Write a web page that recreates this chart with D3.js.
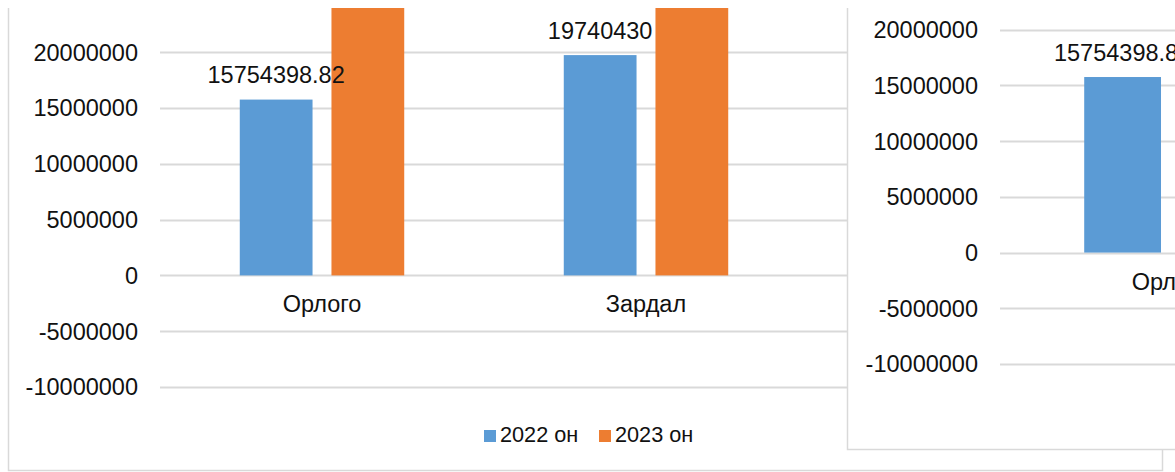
<!DOCTYPE html>
<html>
<head>
<meta charset="utf-8">
<script src="https://cdn.jsdelivr.net/npm/d3@7"></script>
<style>
  body { margin: 0; background: #fff; }
  svg { display: block; font-family: "Liberation Sans", Arial, sans-serif; }
</style>
</head>
<body>
<svg width="1175" height="472"></svg>
<script>
// data
const categories = ["Орлого", "Зардал"];
const series = ["2022 он", "2023 он"];
const values2022 = [15754398.82, 19740430];
const values2023 = [27000000, 30000000]; // tops run out of the picture
const labels2022 = ["15754398.82", "19740430"];
const yTicks = [-10000000, -5000000, 0, 5000000, 10000000, 15000000, 20000000];

const colors = ["#5B9BD5", "#ED7D31"];
const grid = "#D9D9D9";

const svg = d3.select("svg");

function drawChart(opts) {
  const g = svg.append("g");

  // frame
  g.append("rect")
    .attr("x", opts.frame[0] + 0.5).attr("y", opts.frame[1] + 0.5)
    .attr("width", opts.frame[2]).attr("height", opts.frame[3])
    .attr("fill", "#fff").attr("stroke", grid).attr("stroke-width", 1.5);

  const x = d3.scaleBand()
    .domain(opts.xDomain)
    .range([opts.plotLeft, opts.plotRight]);

  const x1 = d3.scaleBand()
    .domain(series)
    .range([0, x.bandwidth()])
    .paddingInner(0.2065)
    .paddingOuter(0.87);

  const y = d3.scaleLinear()
    .domain([-10000000, 25000000])
    .range([opts.plotBottom, opts.plotTop]);

  // gridlines
  g.append("g").selectAll("line")
    .data(yTicks)
    .join("line")
    .attr("x1", opts.plotLeft).attr("x2", opts.plotRight)
    .attr("y1", d => Math.round(y(d)) + 0.5)
    .attr("y2", d => Math.round(y(d)) + 0.5)
    .attr("stroke", grid).attr("stroke-width", 2);

  // y axis labels
  g.append("g").selectAll("text")
    .data(yTicks)
    .join("text")
    .attr("x", opts.labelRight)
    .attr("y", d => y(d))
    .attr("dy", "0.36em")
    .attr("text-anchor", "end")
    .attr("font-size", 23.5)
    .attr("fill", "#111")
    .text(d => String(d));

  const rows = categories.map((c, i) => ({
    cat: c,
    vals: [
      { s: series[0], v: values2022[i], color: colors[0] },
      { s: series[1], v: values2023[i], color: colors[1] }
    ],
    label: labels2022[i],
    v22: values2022[i]
  }));

  const groups = g.append("g").selectAll("g")
    .data(rows)
    .join("g")
    .attr("transform", d => `translate(${x(d.cat)},0)`);

  groups.selectAll("rect")
    .data(d => d.vals)
    .join("rect")
    .attr("x", d => x1(d.s))
    .attr("width", x1.bandwidth())
    .attr("y", d => y(Math.max(0, d.v)))
    .attr("height", d => Math.abs(y(d.v) - y(0)))
    .attr("fill", d => d.color);

  // data labels of 2022 (the 2023 ones sit above the picture)
  groups.append("text")
    .attr("x", x1(series[0]) + x1.bandwidth() / 2)
    .attr("y", d => y(d.v22) - 16.5)
    .attr("text-anchor", "middle")
    .attr("font-size", 23.5)
    .attr("fill", "#111")
    .text(d => d.label);

  // category labels
  g.append("g").selectAll("text")
    .data(categories)
    .join("text")
    .attr("x", d => x(d) + x.bandwidth() / 2)
    .attr("y", y(0) + 37)
    .attr("text-anchor", "middle")
    .attr("font-size", 23.5)
    .attr("fill", "#111")
    .text(d => d);

  if (opts.legend) {
    const lg = g.append("g")
      .attr("transform", `translate(${opts.legend[0]},${opts.legend[1]})`);
    const items = lg.selectAll("g")
      .data(series)
      .join("g")
      .attr("transform", (d, i) => `translate(${i * 115},0)`);
    items.append("rect")
      .attr("x", 0).attr("y", -12)
      .attr("width", 12).attr("height", 12)
      .attr("fill", (d, i) => colors[i]);
    items.append("text")
      .attr("x", 16).attr("y", 0)
      .attr("font-size", 21.7)
      .attr("fill", "#111")
      .text(d => d);
  }
}

// chart behind
drawChart({
  frame: [8, -20, 1154, 490],
  xDomain: ["Орлого", "Зардал", ""],
  plotLeft: 160, plotRight: 1132,
  plotTop: -3.6, plotBottom: 387,
  labelRight: 138,
  legend: [484, 442]
});

// chart in front, shifted right
drawChart({
  frame: [847, -20, 400, 469],
  xDomain: ["Орлого", "Зардал", ""],
  plotLeft: 1000, plotRight: 2026,
  plotTop: -26, plotBottom: 364,
  labelRight: 978,
  legend: null
});

// blank strip along the top
svg.append("rect")
  .attr("x", 0).attr("y", 0)
  .attr("width", 1175).attr("height", 8)
  .attr("fill", "#fff");
</script>
</body>
</html>
